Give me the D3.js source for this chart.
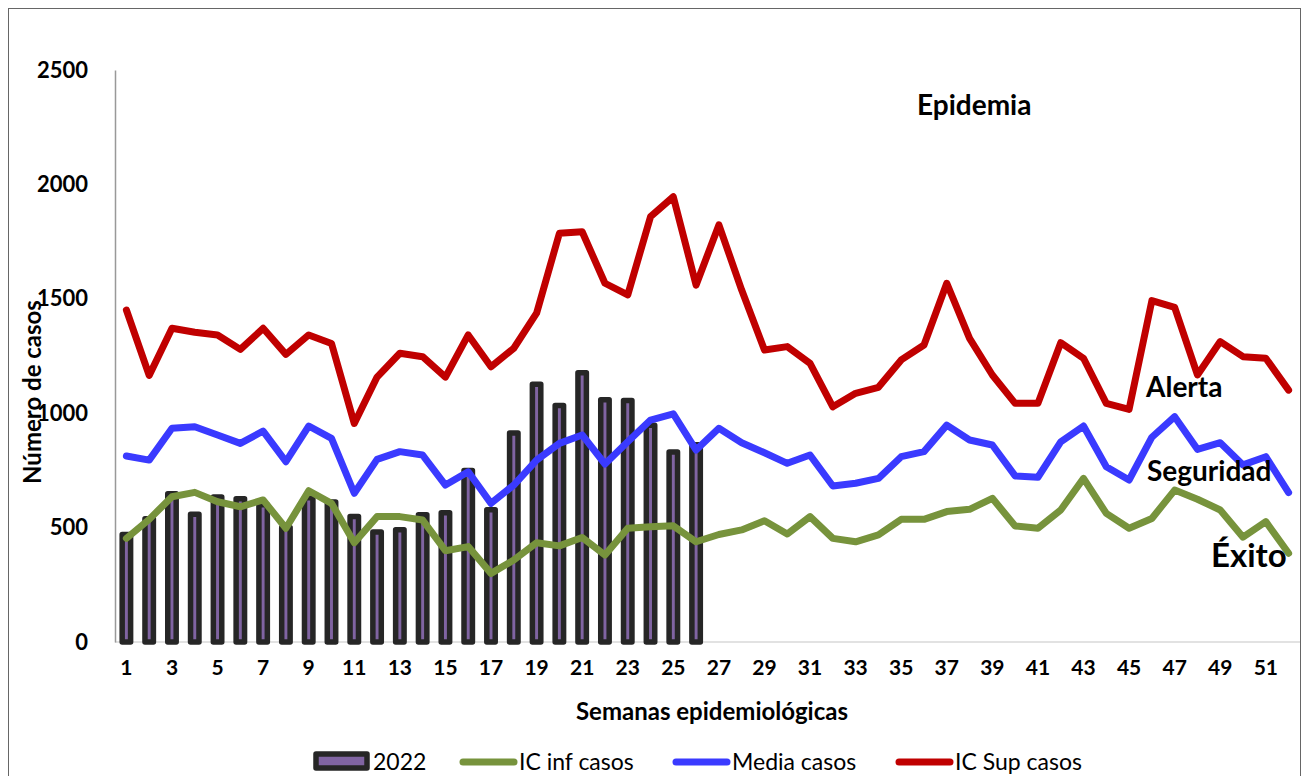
<!DOCTYPE html>
<html>
<head>
<meta charset="utf-8">
<script src="https://cdn.jsdelivr.net/npm/d3@7"></script>
<style>
  body { margin: 0; background: #fff; }
  text { font-family: Lato, "Open Sans", sans-serif; fill: #000; }
</style>
</head>
<body>
<svg id="chart" width="1302" height="776"></svg>
<script>
// semanas epidemiológicas
var weeks = d3.range(1, 53);
var xTickWeeks = weeks.filter(function(w) { return w % 2 === 1; });
var yTicks = [0, 500, 1000, 1500, 2000, 2500];

// casos 2022 (semanas 1-26)
var cases2022 = [470, 539, 648, 558, 634, 626, 600, 500, 630, 612, 549, 481, 491,
                 556, 565, 750, 578, 913, 1126, 1034, 1177, 1059, 1055, 947, 830, 862];

var icInf = [453, 536, 635, 654, 613, 591, 621, 497, 661, 606, 434, 548, 548, 533, 399, 417, 300,
             358, 434, 420, 457, 380, 497, 504, 508, 438, 470, 490, 530, 472, 548, 453, 438, 468,
             536, 536, 570, 580, 628, 507, 497, 577, 715, 562, 497, 540, 664, 624, 577, 458, 526, 388];

var media = [813, 795, 934, 941, 905, 868, 922, 788, 944, 890, 650, 798, 832, 817, 686, 744, 606,
             686, 795, 868, 905, 778, 875, 970, 997, 839, 934, 871, 827, 781, 817, 682, 694, 715,
             810, 832, 948, 883, 861, 726, 720, 875, 944, 766, 708, 895, 985, 842, 871, 774, 810, 653];

var icSup = [1451, 1165, 1371, 1354, 1342, 1279, 1371, 1257, 1342, 1305, 955, 1158, 1262, 1247, 1158,
             1342, 1203, 1284, 1437, 1786, 1793, 1568, 1517, 1859, 1946, 1560, 1823, 1538, 1276, 1291,
             1218, 1028, 1087, 1113, 1233, 1298, 1568, 1327, 1167, 1043, 1043, 1308, 1240, 1043, 1017,
             1492, 1463, 1167, 1313, 1247, 1240, 1101];

var series = [
  { name: "IC inf casos", values: icInf, color: "#77933c" },
  { name: "Media casos", values: media, color: "#3a3aff" },
  { name: "IC Sup casos", values: icSup, color: "#c00000" }
];

var svg = d3.select("#chart");

// marco del gráfico
svg.append("rect")
    .attr("x", 8.5).attr("y", 8.5)
    .attr("width", 1292).attr("height", 800)
    .attr("fill", "none")
    .attr("stroke", "#666")
    .attr("stroke-width", 1);

var x = d3.scaleBand()
    .domain(weeks)
    .range([115, 1300])
    .paddingInner(0.63)
    .paddingOuter(0.315);

var y = d3.scaleLinear()
    .domain([0, 2500])
    .range([642, 70]);

var cx = function(w) { return x(w) + x.bandwidth() / 2; };

// línea base
svg.append("line")
    .attr("x1", 115).attr("x2", 1300)
    .attr("y1", y(0)).attr("y2", y(0))
    .attr("stroke", "#d9d9d9")
    .attr("stroke-width", 1.5);

// eje Y
var yAxis = svg.append("g")
    .attr("transform", "translate(115,0)")
    .call(d3.axisLeft(y).tickValues(yTicks).tickFormat(d3.format("d")).tickSize(0).tickPadding(27));
yAxis.select(".domain").attr("stroke", "#999").attr("stroke-width", 1.5);
yAxis.selectAll("text")
    .style("font-family", "Lato, sans-serif")
    .style("font-size", "22px")
    .style("font-weight", "bold")
    .attr("fill", "#000");

// eje X
var xAxis = svg.append("g")
    .attr("transform", "translate(0,660)")
    .call(d3.axisBottom(x).tickValues(xTickWeeks).tickSize(0).tickPadding(0));
xAxis.select(".domain").remove();
xAxis.selectAll("text")
    .style("font-family", "Lato, sans-serif")
    .style("font-size", "21px")
    .style("font-weight", "bold")
    .attr("fill", "#000");

// barras 2022
svg.append("g").selectAll("rect")
    .data(cases2022)
    .enter().append("rect")
    .attr("x", function(d, i) { return x(weeks[i]); })
    .attr("y", function(d) { return y(d); })
    .attr("width", x.bandwidth())
    .attr("height", function(d) { return y(0) - y(d); })
    .attr("fill", "#8064a2")
    .attr("stroke", "#262626")
    .attr("stroke-width", 5.5)
    .attr("stroke-linejoin", "round");

// líneas
var line = d3.line()
    .x(function(d, i) { return cx(weeks[i]); })
    .y(function(d) { return y(d); });

svg.append("g").selectAll("path")
    .data(series)
    .enter().append("path")
    .attr("d", function(s) { return line(s.values); })
    .attr("fill", "none")
    .attr("stroke", function(s) { return s.color; })
    .attr("stroke-width", 7)
    .attr("stroke-linejoin", "round")
    .attr("stroke-linecap", "round");

// títulos de ejes
svg.append("text")
    .attr("transform", "translate(41,392) rotate(-90)")
    .attr("text-anchor", "middle")
    .style("font-size", "24px")
    .style("font-weight", "bold")
    .text("Número de casos");

svg.append("text")
    .attr("x", 712).attr("y", 720)
    .attr("text-anchor", "middle")
    .style("font-size", "24px")
    .style("font-weight", "bold")
    .text("Semanas epidemiológicas");

// zonas
var zones = [
  { label: "Epidemia", x: 917, y: 115, size: 28 },
  { label: "Alerta", x: 1146, y: 397, size: 28 },
  { label: "Seguridad", x: 1147, y: 481, size: 28 },
  { label: "Éxito", x: 1211, y: 567, size: 33 }
];
svg.append("g").selectAll("text")
    .data(zones)
    .enter().append("text")
    .attr("x", function(d) { return d.x; })
    .attr("y", function(d) { return d.y; })
    .style("font-size", function(d) { return d.size + "px"; })
    .style("font-weight", "bold")
    .text(function(d) { return d.label; });

// leyenda
var legend = svg.append("g").attr("transform", "translate(0,762)");
legend.append("rect")
    .attr("x", 316).attr("y", -8)
    .attr("width", 51).attr("height", 14)
    .attr("fill", "#8064a2")
    .attr("stroke", "#262626")
    .attr("stroke-width", 5.5)
    .attr("stroke-linejoin", "round");
legend.append("text")
    .attr("x", 373).attr("y", 8)
    .style("font-size", "23px")
    .text("2022");

var legendX = [460, 673, 896];
series.forEach(function(s, i) {
  legend.append("line")
      .attr("x1", legendX[i] + 3).attr("x2", legendX[i] + 54)
      .attr("y1", 0).attr("y2", 0)
      .attr("stroke", s.color)
      .attr("stroke-width", 7)
      .attr("stroke-linecap", "round");
  legend.append("text")
      .attr("x", legendX[i] + 59).attr("y", 8)
      .style("font-size", "23px")
      .text(s.name);
});
</script>
</body>
</html>
